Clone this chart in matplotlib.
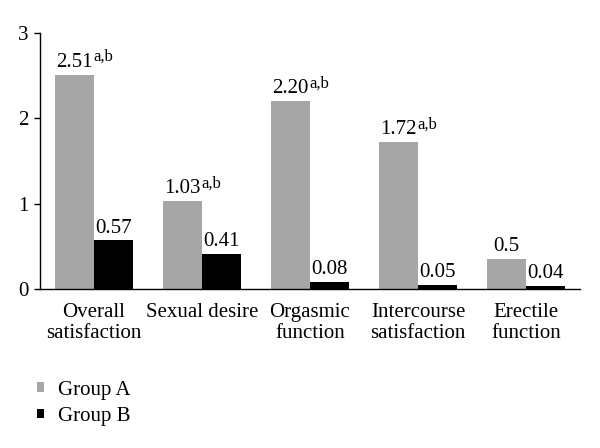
import matplotlib
matplotlib.use("Agg")
import matplotlib.pyplot as plt
import numpy as np

categories = ["Overall\nsatisfaction", "Sexual desire", "Orgasmic\nfunction",
              "Intercourse\nsatisfaction", "Erectile\nfunction"]
group_a = [2.51, 1.03, 2.20, 1.72, 0.35]
group_b = [0.57, 0.41, 0.08, 0.05, 0.04]
labels_a = ["2.51", "1.03", "2.20", "1.72", "0.5"]
labels_b = ["0.57", "0.41", "0.08", "0.05", "0.04"]
sup_a = ["a,b", "a,b", "a,b", "a,b", ""]
yticks = [0, 1, 2, 3]

plt.rcParams['font.family'] = ['Liberation Serif', 'DejaVu Serif']

fig = plt.figure(figsize=(6, 4.48), dpi=100)
ax = fig.add_axes([40/600, 1-289/448, 540/600, 256/448])

x = np.arange(len(categories))
w = 0.36
ca, cb = "#a6a6a6", "#000000"
ax.bar(x - w/2, group_a, w, color=ca, label="Group A")
ax.bar(x + w/2, group_b, w, color=cb, label="Group B")

fs = 15
for xi, v, lab, s in zip(x - w/2, group_a, labels_a, sup_a):
    t = ax.annotate(lab, (xi, v), xytext=(0, 2), textcoords="offset points",
                    ha="center", va="bottom", fontsize=fs)
    if s:
        ax.annotate(s, xy=(1, 1), xycoords=t, xytext=(0.5, 3), textcoords="offset points",
                    ha="left", va="top", fontsize=12)
for xi, v, lab in zip(x + w/2, group_b, labels_b):
    ax.annotate(lab, (xi, v), xytext=(0, 2), textcoords="offset points",
                ha="center", va="bottom", fontsize=fs)

ax.set_xlim(-0.5, len(categories) - 0.5)
ax.set_ylim(0, 3)
ax.set_yticks(yticks)
ax.set_yticklabels([str(t) for t in yticks], fontsize=fs)
ax.set_xticks(x)
ax.set_xticklabels(categories, fontsize=fs, linespacing=1.15)
ax.tick_params(axis='x', length=0, pad=10)
ax.tick_params(axis='y', length=4, width=1, pad=4)
for s in ["top", "right"]:
    ax.spines[s].set_visible(False)
for s in ["left", "bottom"]:
    ax.spines[s].set_linewidth(1)

leg = fig.legend(loc="upper left", bbox_to_anchor=(18/600, 1-362/448), frameon=False,
                 fontsize=fs, handlelength=0.35, handleheight=0.35, handletextpad=0.65,
                 labelspacing=0.35)

fig.savefig("out.png", dpi=100)
